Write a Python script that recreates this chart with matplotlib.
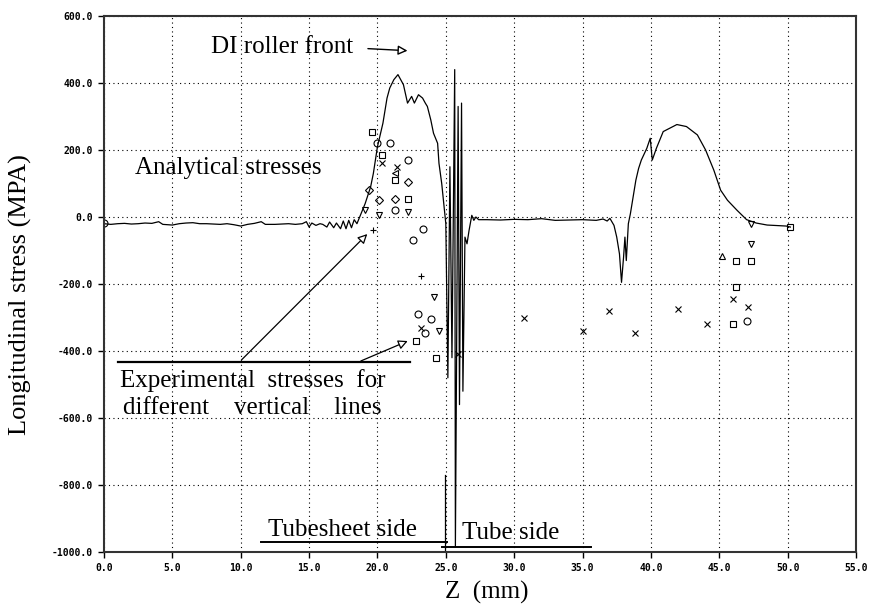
import numpy as np
import matplotlib.pyplot as plt
from matplotlib.ticker import FormatStrFormatter

# -----------------------------
# Analytical stress curve
# -----------------------------
left_z = [0.0, 0.5, 1.0, 1.5, 2.0, 2.5, 3.0, 3.5, 4.0, 4.3,
          5.0, 5.5, 6.0, 6.5, 7.0, 7.5, 8.0, 8.5, 9.0, 9.5,
          10.0, 10.5, 11.0, 11.5, 11.8, 12.5, 13.0, 13.5, 14.0, 14.5,
          14.8, 15.0, 15.2, 15.5, 15.8, 16.0, 16.3, 16.5, 16.8, 17.0,
          17.3, 17.5, 17.7, 17.9, 18.1, 18.3, 18.5]
left_s = [-20, -22, -20, -19, -21, -20, -18, -19, -14, -22,
          -24, -20, -18, -17, -20, -20, -21, -22, -20, -23,
          -27, -22, -19, -14, -22, -22, -21, -20, -22, -20,
          -14, -30, -18, -25, -20, -22, -30, -15, -32, -18,
          -35, -12, -35, -10, -32, -8, -20]

rise_z = [18.7, 19.1, 19.5, 19.7, 20.0, 20.4, 20.7, 20.9, 21.2, 21.5,
          21.9, 22.2, 22.5, 22.7, 23.0, 23.3, 23.5, 23.65, 23.9, 24.1,
          24.4, 24.5, 24.7, 24.85]
rise_s = [0, 40, 90, 130, 210, 280, 355, 385, 410, 425,
          395, 340, 360, 340, 365, 355, 340, 330, 290, 250,
          220, 160, 100, 40]

spike_z = [25.0, 25.15, 25.3, 25.45, 25.65, 25.7, 25.8, 25.9, 26.0, 26.15,
           26.25, 26.4, 26.55, 26.7, 26.9, 27.05, 27.2, 27.4]
spike_s = [-20, -480, 150, -420, 440, -985, -300, 330, -560, 340,
           -520, -60, -80, -40, 5, -10, 0, -8]

flat_z = [28.0, 29.0, 30.0, 31.0, 32.0, 33.0, 34.0, 35.0, 36.0, 36.5, 36.8]
flat_s = [-8, -9, -7, -8, -5, -10, -9, -8, -10, -6, -12]

hump_z = [37.0, 37.3, 37.5, 37.7, 37.85, 38.0, 38.1, 38.2, 38.35, 38.5,
          38.7, 38.9, 39.1, 39.3, 39.7, 39.95, 40.1, 40.4, 40.9, 41.9,
          42.6, 43.4, 44.0, 44.6, 45.1, 45.6, 46.3, 47.0, 47.7, 48.5,
          49.9, 50.2]
hump_s = [-4, -25, -60, -110, -195, -120, -60, -130, -20, 10,
          60, 110, 145, 170, 205, 235, 170, 205, 255, 276,
          270, 245, 200, 140, 80, 50, 20, -8, -18, -24,
          -27, -30]

# short vertical stub at the tubesheet edge
stub_z = [24.95, 24.95]
stub_s = [-770, -1000]

# -----------------------------
# Experimental points, by symbol
# -----------------------------
sq_z = [19.6, 20.3, 21.3, 22.2, 22.8, 24.3, 46.2, 47.3, 46.2, 46.0, 50.2]
sq_s = [255, 185, 110, 55, -370, -420, -130, -130, -210, -320, -30]

circ_z = [0.0, 20.0, 20.9, 22.2, 21.3, 22.6, 23.3, 23.0, 23.9, 23.5, 47.0]
circ_s = [-18, 220, 220, 170, 20, -70, -35, -290, -305, -345, -310]

cross_z = [20.3, 21.4, 23.2, 25.9, 30.7, 35.0, 36.9, 38.8, 42.0, 44.1, 47.1, 46.0]
cross_s = [160, 150, -330, -410, -300, -340, -280, -345, -275, -320, -270, -245]

diam_z = [19.4, 20.1, 21.3, 22.2]
diam_s = [80, 50, 55, 105]

tri_z = [20.1, 19.1, 22.2, 24.1, 47.3, 47.3, 24.5]
tri_s = [5, 20, 15, -240, -80, -20, -340]

up_z = [45.2]
up_s = [-115]

left_tri_z = [21.3]
left_tri_s = [130]

plus_z = [23.2, 19.7]
plus_s = [-175, -40]

x_ticks = [0, 5, 10, 15, 20, 25, 30, 35, 40, 45, 50, 55]
y_ticks = [-1000, -800, -600, -400, -200, 0, 200, 400, 600]

SERIF = 'Liberation Serif'
MONO = 'DejaVu Sans Mono'

# -----------------------------
# Figure
# -----------------------------
fig = plt.figure(figsize=(8.7, 6.08), dpi=100)
ax = fig.add_axes([104 / 870, 56 / 608, 752 / 870, 536 / 608])

anal_z = left_z + rise_z + spike_z + flat_z + hump_z
anal_s = left_s + rise_s + spike_s + flat_s + hump_s
ax.plot(anal_z, anal_s, color='black', lw=0.9)
ax.plot(stub_z, stub_s, color='black', lw=0.9)

mk = dict(linestyle='none', mfc='none', mec='black', ms=5, mew=0.8)
ax.plot(sq_z, sq_s, marker='s', **mk)
ax.plot(circ_z, circ_s, marker='o', **mk)
ax.plot(cross_z, cross_s, marker='x', **mk)
ax.plot(diam_z, diam_s, marker='D', ms=4, linestyle='none', mfc='none', mec='black', mew=0.8)
ax.plot(tri_z, tri_s, marker='v', **mk)
ax.plot(up_z, up_s, marker='^', **mk)
ax.plot(left_tri_z, left_tri_s, marker='<', **mk)
ax.plot(plus_z, plus_s, marker='+', **mk)

ax.set_xlim(0, 55)
ax.set_ylim(-1000, 600)
ax.set_xticks(x_ticks)
ax.set_yticks(y_ticks)
ax.xaxis.set_major_formatter(FormatStrFormatter('%.1f'))
ax.yaxis.set_major_formatter(FormatStrFormatter('%.1f'))
ax.tick_params(direction='out', length=4, width=1, labelsize=7, pad=4)
for lab in ax.get_xticklabels() + ax.get_yticklabels():
    lab.set_fontfamily(MONO)
    lab.set_fontweight('bold')

ax.grid(True, linestyle=(0, (1, 3)), color='black', linewidth=0.8)
for sp in ax.spines.values():
    sp.set_linewidth(1.5)
    sp.set_color('#333333')

# -----------------------------
# Labels and notes
# -----------------------------
fig.text(20 / 870, 1 - 295 / 608, 'Longitudinal stress (MPA)', rotation=90,
         ha='center', va='center', fontsize=19, family=SERIF)
fig.text(487 / 870, 1 - 592 / 608, 'Z  (mm)', ha='center', va='center',
         fontsize=18, family=SERIF)

ax.text(7.8, 508, 'DI roller front', fontsize=18, family=SERIF, va='center')
ax.annotate('', xy=(22.4, 496), xytext=(19.1, 503),
            arrowprops=dict(arrowstyle='-|>', lw=1, color='black', fc='white',
                            mutation_scale=14))

ax.text(2.25, 146, 'Analytical stresses', fontsize=18, family=SERIF, va='center')

ax.text(1.2, -487, 'Experimental  stresses  for', fontsize=18, family=SERIF, va='center')
ax.text(1.4, -570, 'different    vertical    lines', fontsize=18, family=SERIF, va='center')
ax.plot([1.0, 22.4], [-433, -433], color='black', lw=1.6)
ax.annotate('', xy=(19.4, -45), xytext=(9.9, -433),
            arrowprops=dict(arrowstyle='-|>', lw=0.9, color='black', fc='white',
                            mutation_scale=14))
ax.annotate('', xy=(22.4, -367), xytext=(18.6, -433),
            arrowprops=dict(arrowstyle='-|>', lw=0.9, color='black', fc='white',
                            mutation_scale=14))

ax.text(12.0, -934, 'Tubesheet side', fontsize=18, family=SERIF, va='center')
ax.text(26.2, -943, 'Tube side', fontsize=18, family=SERIF, va='center')
ax.plot([11.5, 25.1], [-970, -970], color='black', lw=1.4)
ax.plot([24.7, 35.6], [-985, -985], color='black', lw=1.4)

fig.savefig('out.png', dpi=100)
